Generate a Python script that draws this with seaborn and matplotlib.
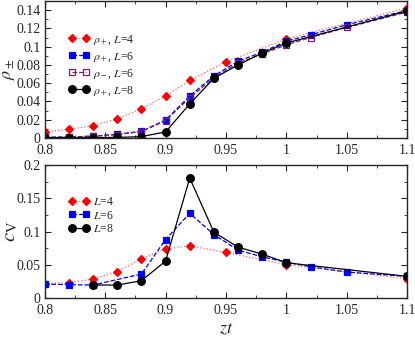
import matplotlib
matplotlib.use('Agg')
import matplotlib.pyplot as plt
import seaborn as sns
import pandas as pd
from matplotlib.ticker import MultipleLocator

# top panel: densities rho_+ / rho_-
zt_l4 = [0.8, 0.82, 0.84, 0.86, 0.88, 0.9, 0.92, 0.95, 1.0, 1.1]
rho_p_l4 = [0.0066, 0.0095, 0.0135, 0.021, 0.032, 0.046, 0.063, 0.0833, 0.1085, 0.1425]

zt_l6 = [0.8, 0.82, 0.84, 0.86, 0.88, 0.9, 0.92, 0.94, 0.96, 0.98, 1.0, 1.02, 1.05, 1.1]
rho_p_l6 = [0.0007, 0.001, 0.002, 0.004, 0.0073, 0.0197, 0.046, 0.068, 0.084, 0.094, 0.106, 0.113, 0.124, 0.1396]
rho_m_l6 = [0.0007, 0.001, 0.002, 0.0038, 0.007, 0.019, 0.044, 0.066, 0.082, 0.092, 0.102, 0.110, 0.121, 0.138]

zt_l8 = [0.8, 0.82, 0.84, 0.86, 0.88, 0.9, 0.92, 0.94, 0.96, 0.98, 1.0, 1.1]
rho_p_l8 = [0.0004, 0.0005, 0.0005, 0.0006, 0.0015, 0.0066, 0.0373, 0.0654, 0.080, 0.093, 0.104, 0.139]

# bottom panel: specific heat c_V
cv_zt_l4 = [0.8, 0.82, 0.84, 0.86, 0.88, 0.9, 0.92, 0.95, 1.0, 1.1]
cv_l4 = [0.0215, 0.023, 0.0285, 0.0395, 0.059, 0.074, 0.0785, 0.0685, 0.050, 0.029]

cv_zt_l6 = [0.8, 0.82, 0.84, 0.88, 0.9, 0.92, 0.94, 0.96, 0.98, 1.0, 1.02, 1.05, 1.1]
cv_l6 = [0.021, 0.020, 0.0195, 0.036, 0.088, 0.1275, 0.0955, 0.072, 0.062, 0.054, 0.047, 0.039, 0.0325]

cv_zt_l8 = [0.84, 0.86, 0.88, 0.9, 0.92, 0.94, 0.96, 0.98, 1.0, 1.1]
cv_l8 = [0.0195, 0.0195, 0.026, 0.0555, 0.1805, 0.099, 0.0765, 0.066, 0.053, 0.0325]
cv_err_l8 = [0.001, 0.001, 0.001, 0.002, 0.003, 0.003, 0.002, 0.002, 0.002, 0.001]

sns.set_style('ticks')
plt.rcParams['font.family'] = ['Liberation Serif', 'DejaVu Serif']
plt.rcParams['mathtext.fontset'] = 'stix'
plt.rcParams['xtick.direction'] = 'in'
plt.rcParams['ytick.direction'] = 'in'

fig = plt.figure(figsize=(4.15, 3.39), dpi=100)
ax1 = fig.add_axes([0.108, 0.593, 0.873, 0.404])
ax2 = fig.add_axes([0.108, 0.121, 0.873, 0.392])

red = '#ff0000'
blue = '#0000ff'
purple = '#7a1f6e'

def draw(ax, x, y, label, color, marker, ls, lc=None, mfc=None, ms=5):
    df = pd.DataFrame({'zt': x, 'v': y})
    sns.lineplot(data=df, x='zt', y='v', ax=ax, color=lc or color, linestyle=ls, lw=0.9,
                 marker=marker, markersize=ms, markerfacecolor=mfc or color,
                 markeredgecolor=color, markeredgewidth=0.9, label=label, sort=False)

draw(ax1, zt_l4, rho_p_l4, r'$\rho_+$, $L$=4', red, 'D', ':', lc='#ff6060', ms=4.5)
draw(ax1, zt_l6, rho_p_l6, r'$\rho_+$, $L$=6', blue, 's', '--')
draw(ax1, zt_l6, rho_m_l6, r'$\rho_-$, $L$=6', purple, 's', '--', mfc='none')
draw(ax1, zt_l8, rho_p_l8, r'$\rho_+$, $L$=8', 'black', 'o', '-', ms=5.5)

draw(ax2, cv_zt_l4, cv_l4, r'$L$=4', red, 'D', ':', lc='#ff6060', ms=4.5)
draw(ax2, cv_zt_l6, cv_l6, r'$L$=6', blue, 's', '--')
draw(ax2, cv_zt_l8, cv_l8, r'$L$=8', 'black', 'o', '-', ms=5.5)
ax2.errorbar(cv_zt_l8, cv_l8, yerr=cv_err_l8, fmt='none', ecolor='black', elinewidth=0.8, capsize=2.5)

for ax in (ax1, ax2):
    ax.set_xlim(0.8, 1.1)
    ax.xaxis.set_minor_locator(MultipleLocator(0.025))
    ax.tick_params(which='both', top=True, right=True, labelsize=10)
    ax.tick_params(axis='y', pad=3)
    ax.tick_params(axis='x', pad=4.5)
    ax.tick_params(which='major', length=4)
    ax.tick_params(which='minor', length=2)
    for s in ax.spines.values():
        s.set_linewidth(1.0)
    ax.set_xticks([0.8, 0.85, 0.9, 0.95, 1.0, 1.05, 1.1])
    ax.set_xticklabels(['0.8', '0.85', '0.9', '0.95', '1', '1.05', '1.1'])

ax1.set_ylim(0, 0.15)
ax1.set_yticks([0, 0.02, 0.04, 0.06, 0.08, 0.1, 0.12, 0.14])
ax1.set_yticklabels(['0', '0.02', '0.04', '0.06', '0.08', '0.1', '0.12', '0.14'])
ax1.yaxis.set_minor_locator(MultipleLocator(0.01))
ax1.set_xlabel('')
ax1.set_ylabel(r'$\rho_\pm$', fontsize=13)
ax1.yaxis.set_label_coords(-0.078, 0.5)
ax1.legend(loc='upper left', bbox_to_anchor=(0.051, 0.80), frameon=False, fontsize=8.5,
           numpoints=2, handlelength=1.8, handletextpad=0.3, labelspacing=0.3,
           borderpad=0.4, borderaxespad=0)

ax2.set_ylim(0, 0.2)
ax2.set_yticks([0, 0.05, 0.1, 0.15, 0.2])
ax2.set_yticklabels(['0', '0.05', '0.1', '0.15', '0.2'])
ax2.yaxis.set_minor_locator(MultipleLocator(0.025))
ax2.set_xlabel(r'$zt$', fontsize=13, labelpad=2)
ax2.set_ylabel(r'$c_{\rm V}$', fontsize=15)
ax2.yaxis.set_label_coords(-0.068, 0.5)
ax2.legend(loc='upper left', bbox_to_anchor=(0.051, 0.80), frameon=False, fontsize=8.5,
           numpoints=2, handlelength=1.8, handletextpad=0.3, labelspacing=0.1,
           borderpad=0.4, borderaxespad=0)

fig.savefig('out.png', dpi=100)
